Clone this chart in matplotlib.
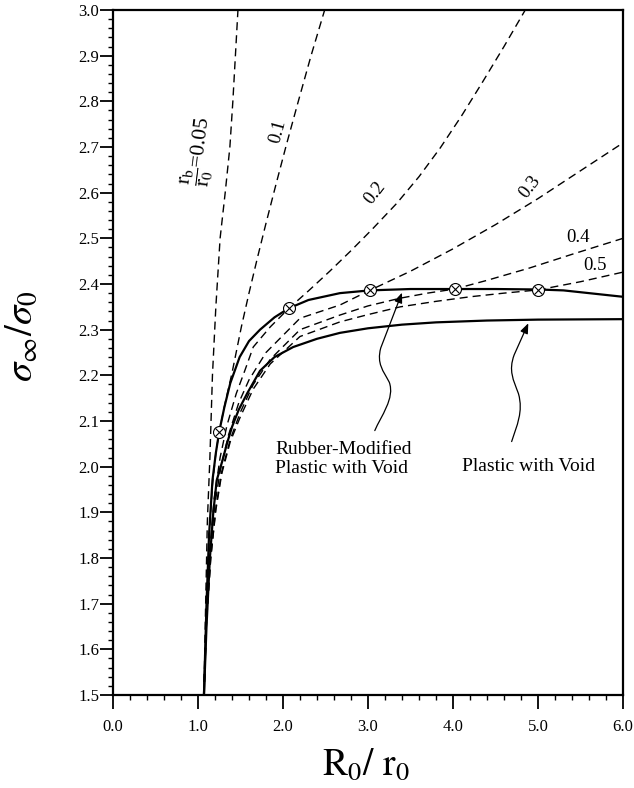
import matplotlib
matplotlib.use('Agg')
import matplotlib.pyplot as plt
from matplotlib.ticker import MultipleLocator, FormatStrFormatter
from matplotlib.path import Path
from matplotlib.patches import FancyArrowPatch

plt.rcParams['font.family'] = ['Liberation Serif', 'DejaVu Serif']
plt.rcParams['mathtext.fontset'] = 'stix'

# ---- data ----
# Plastic with Void (lower solid)
plastic_x = [1.07, 1.10, 1.14, 1.18, 1.22, 1.29, 1.34, 1.40, 1.48, 1.58, 1.73, 1.90,
             2.12, 2.40, 2.67, 3.00, 3.40, 3.80, 4.40, 5.00, 6.00]
plastic_y = [1.50, 1.65, 1.80, 1.90, 1.97, 2.015, 2.05, 2.087, 2.125, 2.161, 2.21, 2.24,
             2.262, 2.28, 2.293, 2.303, 2.311, 2.316, 2.320, 2.322, 2.323]

# Rubber-Modified Plastic with Void (upper solid)
rubber_x = [1.07, 1.10, 1.13, 1.17, 1.21, 1.25, 1.31, 1.38, 1.49, 1.60, 1.73, 1.90,
            2.07, 2.30, 2.67, 3.02, 3.50, 4.00, 4.50, 5.00, 5.30, 5.60, 6.00]
rubber_y = [1.50, 1.70, 1.85, 1.97, 2.03, 2.077, 2.13, 2.183, 2.24, 2.275, 2.30, 2.327,
            2.347, 2.365, 2.38, 2.386, 2.389, 2.389, 2.389, 2.388, 2.386, 2.38, 2.372]

# dashed curves, rb/r0
rb005_x = [1.07, 1.09, 1.11, 1.14, 1.17, 1.21, 1.26, 1.32, 1.375, 1.41, 1.44, 1.47]
rb005_y = [1.50, 1.70, 1.88, 2.02, 2.20, 2.35, 2.50, 2.60, 2.70, 2.80, 2.90, 3.00]

rb01_x = [1.07, 1.10, 1.13, 1.17, 1.21, 1.25, 1.32, 1.40, 1.51, 1.60, 1.70, 1.80,
          1.92, 2.04, 2.18, 2.33, 2.49]
rb01_y = [1.50, 1.70, 1.85, 1.96, 2.03, 2.077, 2.14, 2.205, 2.306, 2.38, 2.458, 2.533,
          2.62, 2.705, 2.80, 2.90, 3.00]

rb02_x = [1.07, 1.10, 1.14, 1.19, 1.26, 1.34, 1.45, 1.55, 1.65, 1.85, 2.07, 2.30,
          2.55, 2.80, 3.05, 3.34, 3.60, 3.85, 4.10, 4.35, 4.60, 4.85]
rb02_y = [1.50, 1.68, 1.82, 1.93, 2.02, 2.09, 2.16, 2.21, 2.262, 2.306, 2.347, 2.385,
          2.428, 2.473, 2.52, 2.577, 2.635, 2.698, 2.768, 2.843, 2.92, 3.00]

rb03_x = [1.07, 1.10, 1.14, 1.20, 1.27, 1.36, 1.48, 1.60, 1.80, 2.20, 2.67, 3.02,
          3.50, 4.00, 4.50, 5.00, 5.50, 6.00]
rb03_y = [1.50, 1.67, 1.81, 1.92, 2.00, 2.07, 2.14, 2.19, 2.25, 2.325, 2.354, 2.386,
          2.428, 2.477, 2.530, 2.587, 2.648, 2.709]

rb04_x = [1.07, 1.10, 1.15, 1.21, 1.28, 1.38, 1.50, 1.65, 1.85, 2.20, 2.67, 3.00,
          3.38, 3.70, 4.02, 4.40, 4.90, 5.40, 6.00]
rb04_y = [1.50, 1.66, 1.80, 1.91, 1.99, 2.06, 2.12, 2.18, 2.235, 2.30, 2.332, 2.352,
          2.369, 2.38, 2.389, 2.408, 2.435, 2.465, 2.50]

rb05_x = [1.07, 1.10, 1.15, 1.21, 1.28, 1.38, 1.50, 1.65, 1.85, 2.20, 2.67, 3.00,
          3.38, 3.80, 4.20, 4.60, 5.00, 5.50, 6.00]
rb05_y = [1.50, 1.66, 1.80, 1.905, 1.985, 2.055, 2.11, 2.17, 2.225, 2.285, 2.317, 2.333,
          2.35, 2.362, 2.372, 2.38, 2.387, 2.405, 2.426]

# crossed-circle markers (intersections)
mark_x = [1.25, 2.07, 3.02, 4.02, 5.00]
mark_y = [2.077, 2.347, 2.386, 2.389, 2.387]

x_ticks = [0, 1, 2, 3, 4, 5, 6]
y_ticks = [1.5, 1.6, 1.7, 1.8, 1.9, 2.0, 2.1, 2.2, 2.3, 2.4, 2.5, 2.6, 2.7, 2.8, 2.9, 3.0]

# ---- figure ----
W, H = 634, 788
fig = plt.figure(figsize=(W / 100, H / 100), dpi=100)
L, R, T, B = 113, 623, 10, 695
ax = fig.add_axes([L / W, 1 - B / H, (R - L) / W, (B - T) / H])

dash = (5.8, 3.6)
for xs, ys in [(rb005_x, rb005_y), (rb01_x, rb01_y), (rb02_x, rb02_y),
               (rb03_x, rb03_y), (rb04_x, rb04_y), (rb05_x, rb05_y)]:
    ax.plot(xs, ys, color='black', lw=1.0, dashes=dash)

ax.plot(plastic_x, plastic_y, color='black', lw=1.6, solid_joinstyle='round')
ax.plot(rubber_x, rubber_y, color='black', lw=1.6, solid_joinstyle='round')

ax.plot(mark_x, mark_y, 'o', ms=8.6, mfc='white', mec='black', mew=0.8, zorder=5)
ax.plot(mark_x, mark_y, 'x', ms=6.0, mew=0.8, color='black', zorder=6)

ax.set_xlim(0, 6)
ax.set_ylim(1.5, 3.0)
ax.set_xticks(x_ticks)
ax.set_yticks(y_ticks)
ax.xaxis.set_major_formatter(FormatStrFormatter('%.1f'))
ax.yaxis.set_major_formatter(FormatStrFormatter('%.1f'))
ax.xaxis.set_minor_locator(MultipleLocator(0.2))
ax.yaxis.set_minor_locator(MultipleLocator(0.02))
ax.tick_params(axis='x', which='major', direction='out', length=10, width=1.3,
               labelsize=12, pad=7)
ax.tick_params(axis='y', which='major', direction='out', length=9.5, width=1.3,
               labelsize=12, pad=0.5)
ax.tick_params(which='minor', direction='out', length=3.6, width=1.0)
for s in ax.spines.values():
    s.set_linewidth(1.6)

# curve labels
ax.text(1.02, 2.69, r'$\dfrac{\mathrm{r_b}}{\mathrm{r_0}}$=0.05', rotation=83,
        fontsize=15.5, ha='center', va='center', rotation_mode='anchor')
ax.text(1.945, 2.733, '0.1', rotation=75, fontsize=13.5, ha='center', va='center',
        rotation_mode='anchor')
ax.text(3.08, 2.60, '0.2', rotation=52, fontsize=13.5, ha='center', va='center',
        rotation_mode='anchor')
ax.text(4.90, 2.612, '0.3', rotation=52, fontsize=13.5, ha='center', va='center',
        rotation_mode='anchor')
ax.text(5.47, 2.502, '0.4', fontsize=13.5, ha='center', va='center')
ax.text(5.67, 2.441, '0.5', fontsize=13.5, ha='center', va='center')

# annotation texts
ax.text(1.91, 2.017, 'Rubber-Modified\nPlastic with Void', fontsize=14,
        ha='left', va='center', linespacing=1.15)
ax.text(4.11, 2.0, 'Plastic with Void', fontsize=14, ha='left', va='center')

# wavy arrows
def wavy_arrow(verts, codes):
    p = Path(verts, codes)
    a = FancyArrowPatch(path=p, arrowstyle='-|>,head_length=6,head_width=2.4',
                        color='black', lw=0.9, transform=ax.transData,
                        shrinkA=0, shrinkB=0)
    ax.add_patch(a)

wavy_arrow([(3.08, 2.079), (3.15, 2.11), (3.32, 2.15), (3.25, 2.185),
            (3.18, 2.21), (3.10, 2.225), (3.15, 2.26), (3.40, 2.381)],
           [Path.MOVETO, Path.CURVE4, Path.CURVE4, Path.CURVE4,
            Path.CURVE4, Path.CURVE4, Path.CURVE4, Path.LINETO])
wavy_arrow([(4.69, 2.055), (4.75, 2.09), (4.83, 2.12), (4.77, 2.16),
            (4.71, 2.19), (4.65, 2.21), (4.72, 2.245), (4.886, 2.314)],
           [Path.MOVETO, Path.CURVE4, Path.CURVE4, Path.CURVE4,
            Path.CURVE4, Path.CURVE4, Path.CURVE4, Path.LINETO])

# axis titles
fig.text(22 / W, 1 - 336 / H, r'$\sigma_{\infty}/\sigma_0$', rotation=90,
         fontsize=28, ha='center', va='center')
fig.text(366 / W, 1 - 765 / H, r'$\mathrm{R_0/\ r_0}$', fontsize=27,
         ha='center', va='center')

fig.savefig('out.png', dpi=100)
